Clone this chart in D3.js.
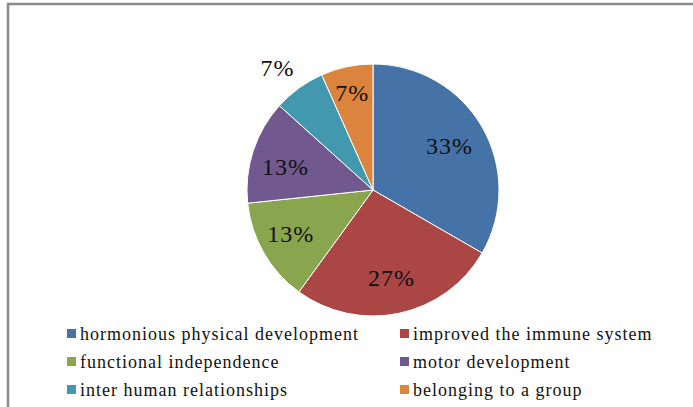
<!DOCTYPE html>
<html>
<head>
<meta charset="utf-8">
<script src="https://cdn.jsdelivr.net/npm/d3@7"></script>
<style>
  html, body { margin: 0; padding: 0; background: #fff; }
  svg { display: block; }
</style>
</head>
<body>
<svg id="chart" width="693" height="407"></svg>
<script>
// Benefits reported, as share of responses (counts out of 15)
const categories = [
  "hormonious physical development",
  "improved the immune system",
  "functional independence",
  "motor development",
  "inter human relationships",
  "belonging to a group"
];
const counts = [5, 4, 2, 2, 1, 1];
const percentLabels = ["33%", "27%", "13%", "13%", "7%", "7%"];
const colors = ["#4572A7", "#AA4643", "#89A54E", "#71588F", "#4198AF", "#DB843D"];

const svg = d3.select("#chart");
const W = 693, H = 407;

// chart-area frame (top and left edges visible)
svg.append("path")
  .attr("d", `M8,${H} L8,4 L${W},4`)
  .attr("fill", "none")
  .attr("stroke", "#8a8a8a")
  .attr("stroke-width", 2.5);

const cx = 373, cy = 190, R = 126;

const pie = d3.pie().sort(null).value(d => d.value);
const data = categories.map((c, i) => ({ name: c, value: counts[i], label: percentLabels[i], color: colors[i] }));
const arcs = pie(data);
const arc = d3.arc().innerRadius(0).outerRadius(R);

const g = svg.append("g").attr("transform", `translate(${cx},${cy})`);

g.selectAll("path.slice")
  .data(arcs)
  .join("path")
  .attr("class", "slice")
  .attr("d", arc)
  .attr("fill", d => d.data.color)
  .attr("stroke", "#ffffff")
  .attr("stroke-width", 1);

// label placement: radius factor and angular nudge (degrees) per slice
const labelRadius = [0.70, 0.71, 0.74, 0.72, 1.23, 0.79];
const labelNudge = [0, 0, 2, -3, -2, 0];

g.selectAll("text.pct")
  .data(arcs)
  .join("text")
  .attr("class", "pct")
  .each(function(d, i) {
    const a = (d.startAngle + d.endAngle) / 2 + labelNudge[i] * Math.PI / 180;
    const r = R * labelRadius[i];
    d3.select(this)
      .attr("x", r * Math.sin(a))
      .attr("y", -r * Math.cos(a));
  })
  .attr("text-anchor", "middle")
  .attr("dominant-baseline", "central")
  .attr("font-family", "'Liberation Serif', 'Times New Roman', serif")
  .attr("font-size", 24)
  .attr("letter-spacing", 1)
  .attr("fill", "#111")
  .text(d => d.data.label);

// legend: two columns, three rows
const legend = svg.append("g");
const colX = [67, 400];
const rowY = [334, 362, 390];
const items = legend.selectAll("g.item")
  .data(data)
  .join("g")
  .attr("class", "item")
  .attr("transform", (d, i) => `translate(${colX[i % 2]},${rowY[Math.floor(i / 2)]})`);

items.append("rect")
  .attr("x", 0).attr("y", -5)
  .attr("width", 9).attr("height", 9)
  .attr("fill", d => d.color);

items.append("text")
  .attr("x", 13).attr("y", 0)
  .attr("dominant-baseline", "central")
  .attr("font-family", "'Liberation Serif', 'Times New Roman', serif")
  .attr("font-size", 18)
  .attr("letter-spacing", 1)
  .attr("fill", "#111")
  .text(d => d.name);
</script>
</body>
</html>
